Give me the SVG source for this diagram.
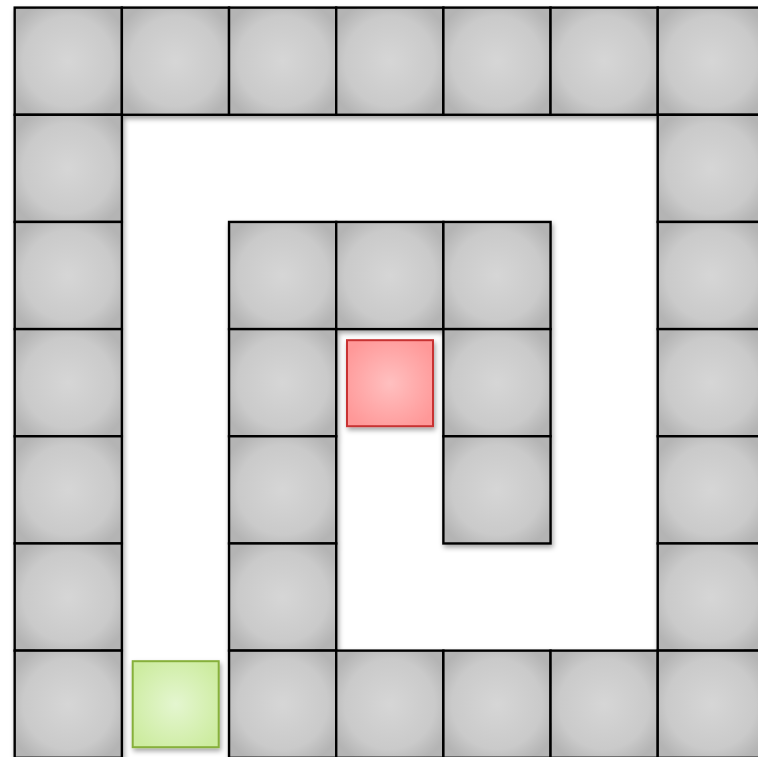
<svg xmlns="http://www.w3.org/2000/svg" width="758" height="757" viewBox="0 0 758 757">
<defs>
<radialGradient id="gg" cx="50%" cy="50%" r="60%">
<stop offset="0" stop-color="#d6d6d6"/>
<stop offset="0.7" stop-color="#cacaca"/>
<stop offset="1" stop-color="#b4b4b4"/>
</radialGradient>
<radialGradient id="rg" cx="50%" cy="50%" r="60%">
<stop offset="0" stop-color="#ffc0c0"/>
<stop offset="1" stop-color="#ff9898"/>
</radialGradient>
<radialGradient id="lg" cx="50%" cy="50%" r="60%">
<stop offset="0" stop-color="#e4f6d0"/>
<stop offset="1" stop-color="#cdeca0"/>
</radialGradient>
<filter id="sh" x="-10%" y="-10%" width="130%" height="130%">
<feDropShadow dx="1.5" dy="3" stdDeviation="2.5" flood-color="#000" flood-opacity="0.35"/>
</filter>
<rect id="c" width="107.17" height="107.17"/>
</defs>
<style>
.g use{fill:url(#gg);stroke:#000;stroke-width:2.4}
.red{fill:url(#rg);stroke:#c83232;stroke-width:2}
.grn{fill:url(#lg);stroke:#86b03a;stroke-width:2}
</style>
<rect width="758" height="757" fill="#fff"/>
<g id="walls" class="g" filter="url(#sh)">
<use href="#c" x="14.7" y="7.6"/>
<use href="#c" x="121.87" y="7.6"/>
<use href="#c" x="229.04" y="7.6"/>
<use href="#c" x="336.21" y="7.6"/>
<use href="#c" x="443.38" y="7.6"/>
<use href="#c" x="550.55" y="7.6"/>
<use href="#c" x="657.72" y="7.6"/>
<use href="#c" x="14.7" y="114.77"/>
<use href="#c" x="657.72" y="114.77"/>
<use href="#c" x="14.7" y="221.94"/>
<use href="#c" x="229.04" y="221.94"/>
<use href="#c" x="336.21" y="221.94"/>
<use href="#c" x="443.38" y="221.94"/>
<use href="#c" x="657.72" y="221.94"/>
<use href="#c" x="14.7" y="329.11"/>
<use href="#c" x="229.04" y="329.11"/>
<use href="#c" x="443.38" y="329.11"/>
<use href="#c" x="657.72" y="329.11"/>
<use href="#c" x="14.7" y="436.28"/>
<use href="#c" x="229.04" y="436.28"/>
<use href="#c" x="443.38" y="436.28"/>
<use href="#c" x="657.72" y="436.28"/>
<use href="#c" x="14.7" y="543.45"/>
<use href="#c" x="229.04" y="543.45"/>
<use href="#c" x="657.72" y="543.45"/>
<use href="#c" x="14.7" y="650.62"/>
<use href="#c" x="229.04" y="650.62"/>
<use href="#c" x="336.21" y="650.62"/>
<use href="#c" x="443.38" y="650.62"/>
<use href="#c" x="550.55" y="650.62"/>
<use href="#c" x="657.72" y="650.62"/>
</g>
<g id="goal" filter="url(#sh)">
<rect class="red" x="347" y="340.2" width="86" height="86"/>
</g>
<g id="start" filter="url(#sh)">
<rect class="grn" x="132.7" y="661.2" width="86" height="86"/>
</g>
<g id="connectors"/>
</svg>
